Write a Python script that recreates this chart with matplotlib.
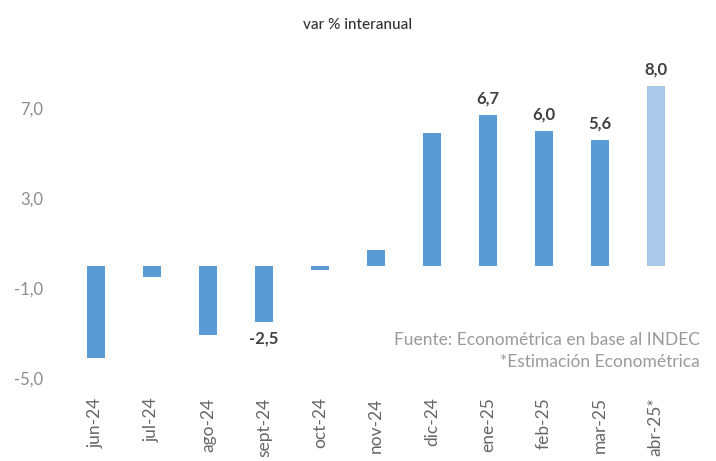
import matplotlib.pyplot as plt
import numpy as np

plt.rcParams['font.family'] = ['Lato', 'DejaVu Sans']

meses = ['jun-24', 'jul-24', 'ago-24', 'sept-24', 'oct-24', 'nov-24',
         'dic-24', 'ene-25', 'feb-25', 'mar-25', 'abr-25*']
valores = [-4.1, -0.5, -3.1, -2.5, -0.2, 0.7, 5.9, 6.7, 6.0, 5.6, 8.0]
etiquetas = ['', '', '', '-2,5', '', '', '', '6,7', '6,0', '5,6', '8,0']
yticks = [-5.0, -1.0, 3.0, 7.0]

azul = '#5b9bd5'
azul_claro = '#a9c8ea'
colores = [azul] * 10 + [azul_claro]

fig = plt.figure(figsize=(7.16, 4.61), dpi=100)
ax = fig.add_axes([0.095, 0.18, 0.86, 0.707])

x = np.arange(len(meses))
ax.bar(x, valores, width=0.33, color=colores)

for xi, v, t in zip(x, valores, etiquetas):
    if not t:
        continue
    if v >= 0:
        ax.annotate(t, (xi, v), xytext=(0, 6), textcoords='offset points',
                    ha='center', va='bottom', fontsize=12, fontweight='bold', color='#404040')
    else:
        ax.annotate(t, (xi, v), xytext=(0, -6), textcoords='offset points',
                    ha='center', va='top', fontsize=12, fontweight='bold', color='#404040')

ax.set_xlim(-0.5, len(meses) - 0.5)
ax.set_ylim(-5, 9.5)
ax.set_yticks(yticks)
ax.set_yticklabels([f'{t:.1f}'.replace('.', ',') for t in yticks])
ax.set_xticks(x)
ax.set_xticklabels(meses, rotation=90)
ax.tick_params(axis='y', length=0, pad=18, labelsize=12, labelcolor='#8c8c8c')
ax.tick_params(axis='x', length=0, pad=14, labelsize=12.5, labelcolor='#666666')
for s in ax.spines.values():
    s.set_visible(False)

fig.text(0.5, 0.945, 'var % interanual', ha='center', va='center',
         fontsize=11, fontweight='medium', color='#333333')
fig.text(0.978, 0.262, 'Fuente: Econométrica en base al INDEC', ha='right',
         va='center', fontsize=12.5, color='#9a9a9a')
fig.text(0.978, 0.214, '*Estimación Econométrica', ha='right',
         va='center', fontsize=12.5, color='#9a9a9a')

fig.savefig('out.png', dpi=100)
